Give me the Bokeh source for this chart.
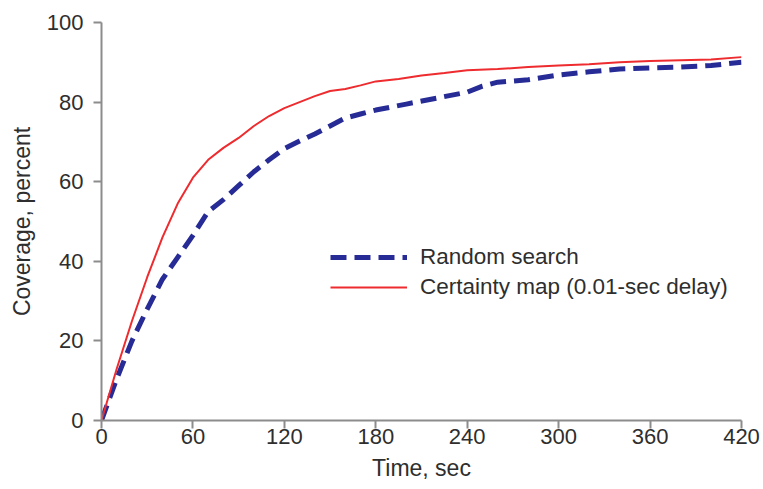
from bokeh.plotting import figure
from bokeh.models import Range1d, FixedTicker, Legend, LegendItem
from bokeh.embed import file_html
from bokeh.resources import INLINE

# Data
random_t = [0, 10, 20, 30, 40, 50, 60, 70, 80, 90, 100, 110, 120, 130, 140, 150, 160, 170, 180,
            200, 220, 240, 250, 260, 280, 300, 320, 340, 360, 380, 400, 420]
random_v = [0, 10.5, 20, 28, 35.5, 41, 46.5, 52.5, 55.5, 59, 62.5, 65.5, 68.3, 70.2, 72, 74, 76, 77, 78,
            79.5, 81, 82.5, 84, 85, 85.6, 86.8, 87.6, 88.3, 88.6, 88.8, 89.2, 90]

certainty_t = [0, 10, 20, 30, 40, 50, 60, 70, 80, 90, 100, 110, 120, 130, 140, 150, 160, 170, 180,
               195, 210, 225, 240, 260, 280, 300, 320, 340, 360, 380, 400, 420]
certainty_v = [0, 13, 25, 36, 46, 54.5, 61, 65.5, 68.5, 71, 74, 76.5, 78.5, 80, 81.5, 82.8, 83.3, 84.2, 85.2,
               85.8, 86.7, 87.3, 88, 88.3, 88.8, 89.2, 89.5, 90, 90.3, 90.5, 90.7, 91.3]

x_ticks = [0, 60, 120, 180, 240, 300, 360, 420]
y_ticks = [0, 20, 40, 60, 80, 100]

FONT = "Liberation Sans"
TXT = "#2e2e2e"
AX = "#8c8c8c"

p = figure(width=760, height=489, output_backend="svg", toolbar_location=None,
           x_range=Range1d(0, 420), y_range=Range1d(0, 100),
           min_border_left=101, min_border_right=19, min_border_top=22, min_border_bottom=69)
p.outline_line_color = None
p.xgrid.visible = False
p.ygrid.visible = False

r1 = p.line(random_t, random_v, line_color="#272b96", line_width=5, line_dash="16 8")
r2 = p.line(certainty_t, certainty_v, line_color="#ee2b2e", line_width=2)

for ax in (p.xaxis[0], p.yaxis[0]):
    ax.axis_line_color = AX
    ax.axis_line_width = 2
    ax.major_tick_line_color = AX
    ax.major_tick_line_width = 2
    ax.major_tick_in = 0
    ax.major_tick_out = 8
    ax.minor_tick_line_color = None
    ax.major_label_text_font = FONT
    ax.major_label_text_font_size = "22px"
    ax.major_label_text_color = TXT
    ax.axis_label_text_font = FONT
    ax.axis_label_text_font_size = "23px"
    ax.axis_label_text_font_style = "normal"
    ax.axis_label_text_color = TXT

p.xaxis.ticker = FixedTicker(ticks=x_ticks)
p.yaxis.ticker = FixedTicker(ticks=y_ticks)
p.xaxis.axis_label = "Time, sec"
p.yaxis.axis_label = "Coverage, percent"
p.xaxis.major_label_standoff = 0
p.yaxis.major_label_standoff = 10
p.xaxis.axis_label_standoff = 8
p.yaxis.axis_label_standoff = 9

legend = Legend(items=[LegendItem(label="Random search", renderers=[r1]),
                       LegendItem(label="Certainty map (0.01-sec delay)", renderers=[r2])],
                location=(229, 118), orientation="vertical")
legend.border_line_color = None
legend.background_fill_alpha = 0
legend.padding = 0
legend.margin = 0
legend.spacing = 0
legend.glyph_width = 77
legend.glyph_height = 30
legend.label_height = 30
legend.label_standoff = 13
legend.label_text_font = FONT
legend.label_text_font_size = "22.5px"
legend.label_text_color = TXT
p.add_layout(legend, "center")

open("out.html", "w").write(file_html(p, INLINE))
